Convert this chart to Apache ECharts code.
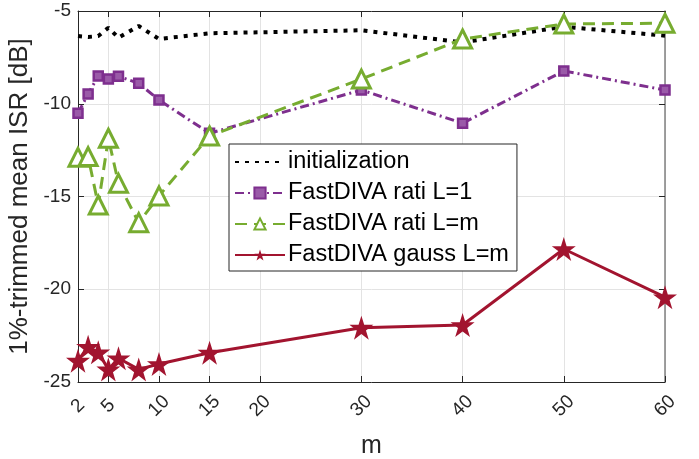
<!DOCTYPE html>
<html>
<head>
<meta charset="utf-8">
<script src="https://cdn.jsdelivr.net/npm/echarts@6/dist/echarts.min.js"></script>
<style>
  html, body { margin: 0; padding: 0; background: #fff; }
  #chart { width: 699px; height: 459px; }
</style>
</head>
<body>
<div id="chart"></div>
<script>
// x positions (m) shared by all series
var mValues = [2, 3, 4, 5, 6, 8, 10, 15, 30, 40, 50, 60];
var xTicks = [2, 5, 10, 15, 20, 30, 40, 50, 60];
var yTicks = [-25, -20, -15, -10, -5];

// ISR values, dB
var initIsr = [-6.35, -6.4, -6.35, -5.9, -6.44, -5.81, -6.51, -6.2, -6.04, -6.69, -5.85, -6.33];
var ratiL1Isr = [-10.51, -9.47, -8.5, -8.67, -8.52, -8.9, -9.8, -11.59, -9.26, -11.05, -8.23, -9.26];
var ratiLmIsr = [-12.89, -12.85, -15.46, -11.86, -14.29, -16.41, -14.97, -11.74, -8.67, -6.51, -5.7, -5.66];
var gaussLmIsr = [-23.85, -23.1, -23.4, -24.32, -23.72, -24.32, -24.03, -23.42, -22.07, -21.93, -17.83, -20.43];

var seriesNames = ["initialization", "FastDIVA rati L=1", "FastDIVA rati L=m", "FastDIVA gauss L=m"];

var STAR = "path://M50,0 L61.2,34.5 L97.6,34.5 L68.2,55.9 L79.4,90.5 L50,69.1 L20.6,90.5 L31.8,55.9 L2.4,34.5 L38.8,34.5 Z";
var FONT = "Liberation Sans";
var AXIS_COLOR = "#262626";

function pairs(ys) {
  return mValues.map(function (m, i) { return [m, ys[i]]; });
}

var chart = echarts.init(document.getElementById("chart"), null, { renderer: "canvas" });

chart.setOption({
  animation: false,
  backgroundColor: "#fff",
  grid: { left: 78, right: 34, top: 11, bottom: 77, containLabel: false, outerBoundsMode: "none" },
  legend: {
    orient: "vertical",
    left: 229,
    top: 144,
    padding: [6, 8, 4, 5],
    itemGap: 7,
    itemWidth: 50,
    itemHeight: 14,
    backgroundColor: "#fff",
    borderColor: AXIS_COLOR,
    borderWidth: 1,
    borderRadius: 0,
    textStyle: { fontFamily: FONT, fontSize: 23.5, color: "#000", padding: [0, 0, 0, -2] },
    data: [
      { name: seriesNames[0], itemStyle: { opacity: 0 } },
      seriesNames[1],
      seriesNames[2],
      seriesNames[3]
    ]
  },
  xAxis: [
    {
      type: "value",
      min: 2,
      max: 60,
      name: "m",
      nameLocation: "middle",
      nameGap: 52,
      nameTextStyle: { fontFamily: FONT, fontSize: 25, color: AXIS_COLOR },
      axisLine: { show: true, lineStyle: { color: AXIS_COLOR, width: 1 } },
      axisTick: { inside: true, length: 6, customValues: xTicks, lineStyle: { color: AXIS_COLOR } },
      axisLabel: {
        customValues: xTicks,
        rotate: 45,
        margin: 24,
        align: "center",
        verticalAlign: "middle",
        fontFamily: FONT,
        fontSize: 19,
        color: AXIS_COLOR
      },
      splitLine: { show: true, lineStyle: { color: "#e3e3e3", width: 1 } }
    },
    {
      type: "value",
      position: "top",
      min: 2,
      max: 60,
      axisLine: { show: true, lineStyle: { color: AXIS_COLOR, width: 1 } },
      axisTick: { inside: true, length: 6, customValues: xTicks, lineStyle: { color: AXIS_COLOR } },
      axisLabel: { show: false },
      splitLine: { show: false }
    }
  ],
  yAxis: [
    {
      type: "value",
      min: -25,
      max: -5,
      interval: 5,
      name: "1%-trimmed mean ISR [dB]",
      nameLocation: "middle",
      nameGap: 41,
      nameTextStyle: { fontFamily: FONT, fontSize: 26, color: AXIS_COLOR },
      axisLine: { show: true, lineStyle: { color: AXIS_COLOR, width: 1 } },
      axisTick: { show: true, inside: true, length: 6, lineStyle: { color: AXIS_COLOR } },
      axisLabel: { fontFamily: FONT, fontSize: 19, color: AXIS_COLOR, margin: 7 },
      splitLine: { show: true, lineStyle: { color: "#e3e3e3", width: 1 } }
    },
    {
      type: "value",
      position: "right",
      min: -25,
      max: -5,
      interval: 5,
      axisLine: { show: true, lineStyle: { color: "#808080", width: 1.5 } },
      axisTick: { show: true, inside: true, length: 6, lineStyle: { color: AXIS_COLOR } },
      axisLabel: { show: false },
      splitLine: { show: false }
    }
  ],
  series: [
    {
      name: seriesNames[0],
      type: "line",
      data: pairs(initIsr),
      symbol: "none",
      lineStyle: { color: "#000", width: 4, type: [4, 6], cap: "butt" },
      itemStyle: { color: "#000" },
      z: 2
    },
    {
      name: seriesNames[1],
      type: "line",
      data: pairs(ratiL1Isr),
      symbol: "rect",
      symbolSize: 9,
      lineStyle: { color: "#7E2F8E", width: 3, type: [9, 4, 2, 4] },
      itemStyle: { color: "#9a5aa8", borderColor: "#7E2F8E", borderWidth: 2.5 },
      z: 3
    },
    {
      name: seriesNames[2],
      type: "line",
      data: pairs(ratiLmIsr),
      symbol: "triangle",
      symbolSize: 18,
      lineStyle: { color: "#77AC30", width: 3, type: [12, 7] },
      itemStyle: { color: "#fff", borderColor: "#77AC30", borderWidth: 3 },
      z: 4
    },
    {
      name: seriesNames[3],
      type: "line",
      data: pairs(gaussLmIsr),
      symbol: STAR,
      symbolSize: 24,
      lineStyle: { color: "#A2142F", width: 3 },
      itemStyle: { color: "#A2142F" },
      z: 5
    }
  ]
});
</script>
</body>
</html>
